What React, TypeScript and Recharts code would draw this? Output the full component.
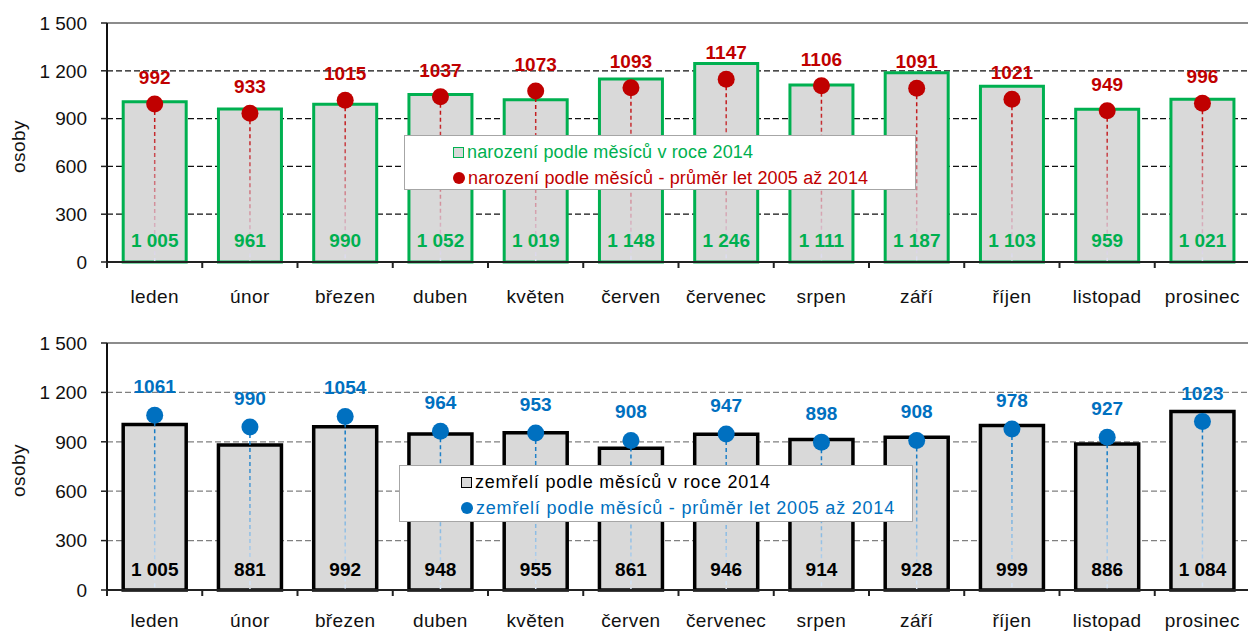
import React from 'react';
import { ComposedChart, Bar, XAxis, YAxis, CartesianGrid, ReferenceLine, LabelList } from 'recharts';

const months = ['leden', 'únor', 'březen', 'duben', 'květen', 'červen', 'červenec', 'srpen', 'září', 'říjen', 'listopad', 'prosinec'];
const births2014 = [1005, 961, 990, 1052, 1019, 1148, 1246, 1111, 1187, 1103, 959, 1021];
const birthsAvg = [992, 933, 1015, 1037, 1073, 1093, 1147, 1106, 1091, 1021, 949, 996];
const deaths2014 = [1005, 881, 992, 948, 955, 861, 946, 914, 928, 999, 886, 1084];
const deathsAvg = [1061, 990, 1054, 964, 953, 908, 947, 898, 908, 978, 927, 1023];
const yTicks = [0, 300, 600, 900, 1200, 1500];
const gridValues = [300, 600, 900, 1200];
const topValue = 1500;
const birthLegend = ['narození podle měsíců v roce 2014', 'narození podle měsíců - průměr let 2005 až 2014'];
const deathLegend = ['zemřelí podle měsíců v roce 2014', 'zemřelí podle měsíců - průměr let 2005 až 2014'];
const yLabel = 'osoby';

const FONT = '"Liberation Sans", Arial, sans-serif';

const fmtSpace = (v: number) =>
  v >= 1000 ? `${Math.floor(v / 1000)} ${String(v % 1000).padStart(3, '0')}` : String(v);

const makeXTick = (labelDy: number) => (props: any) => {
  const { x, y, payload, index, visibleTicksCount } = props;
  const off = payload && payload.offset ? payload.offset : 0;
  const last = index === (visibleTicksCount ?? 12) - 1;
  return (
    <g>
      <line x1={x - off} x2={x - off} y1={y} y2={y + 6} stroke="#222" strokeWidth={2} />
      {last && <line x1={x + off} x2={x + off} y1={y} y2={y + 6} stroke="#222" strokeWidth={2} />}
      <text x={x} y={y + labelDy} textAnchor="middle" fontSize={19} fill="#111" fontFamily={FONT} letterSpacing={0.4}>
        {payload.value}
      </text>
    </g>
  );
};

const makeDrop = (color: string, light: string, r: number, id: string) => (props: any) => {
  const { x, y, width, height, index } = props;
  const cx = x + width / 2;
  const gid = `${id}-${index}`;
  return (
    <g>
      <defs>
        <linearGradient id={gid} gradientUnits="userSpaceOnUse" x1={cx} y1={y} x2={cx} y2={y + height}>
          <stop offset="0" stopColor={color} />
          <stop offset="1" stopColor={light} />
        </linearGradient>
      </defs>
      <line x1={cx} y1={y} x2={cx} y2={y + height} stroke={`url(#${gid})`} strokeWidth={1.5} strokeDasharray="4 3" />
      <circle cx={cx} cy={y} r={r} fill={color} />
    </g>
  );
};

const OsobyLabel = (props: any) => {
  const vb = props.viewBox || {};
  const cx = 18;
  const cy = vb.y + vb.height / 2 + 4;
  return (
    <text x={cx} y={cy} transform={`rotate(-90 ${cx} ${cy})`} textAnchor="middle" dominantBaseline="central" fontSize={19} fill="#111" fontFamily={FONT} letterSpacing={0.5}>
      {yLabel}
    </text>
  );
};

type PanelProps = {
  v2014: number[];
  vAvg: number[];
  barStroke: string;
  barStrokeWidth: number;
  labelColor: string;
  avgColor: string;
  avgLight: string;
  gridColor: string;
  height: number;
  marginTop: number;
  xAxisHeight: number;
  avgOffset: number;
  baseOffset: number;
  labelDy: number;
  id: string;
};

function Panel(p: PanelProps) {
  const data = months.map((m, i) => ({ month: m, y2014: p.v2014[i], avg: p.vAvg[i] }));
  const XTick = makeXTick(p.labelDy);
  return (
    <ComposedChart
      width={1252}
      height={p.height}
      data={data}
      margin={{ top: p.marginTop, right: 2, bottom: 0, left: 0 }}
      barCategoryGap="17%"
    >
      <CartesianGrid horizontal vertical={false} horizontalValues={gridValues} stroke={p.gridColor} strokeDasharray="6 3" strokeWidth={1.3} />
      <ReferenceLine y={topValue} stroke="#8c8c8c" strokeWidth={2} ifOverflow="visible" />
      <XAxis dataKey="month" xAxisId="avg" hide height={0} />
      <XAxis
        dataKey="month"
        xAxisId="main"
        height={p.xAxisHeight}
        tickLine={false}
        tickSize={0}
        tickMargin={0}
        axisLine={{ stroke: '#222', strokeWidth: 2 }}
        tick={<XTick />}
        interval={0}
      />
      <YAxis
        width={107}
        domain={[0, 1500]}
        ticks={yTicks}
        tickFormatter={fmtSpace}
        axisLine={{ stroke: '#111', strokeWidth: 2 }}
        tickLine={{ stroke: '#222', strokeWidth: 1.5 }}
        tickSize={6}
        tickMargin={14}
        tick={{ fontSize: 19, fill: '#111', fontFamily: FONT }}
        interval={0}
        label={{ content: <OsobyLabel /> } as any}
      />
      <Bar
        dataKey="y2014"
        xAxisId="main"
        fill="#d9d9d9"
        stroke={p.barStroke}
        strokeWidth={p.barStrokeWidth}
        isAnimationActive={false}
      />
      <Bar dataKey="avg" xAxisId="avg" isAnimationActive={false} shape={makeDrop(p.avgColor, p.avgLight, 8.5, p.id)} fill={p.avgColor}>
        <LabelList
          dataKey="avg"
          position="top"
          offset={p.avgOffset}
          fill={p.avgColor}
          fontSize={19}
          fontWeight="bold"
          fontFamily={FONT}
        />
        <LabelList
          dataKey="y2014"
          position="insideBottom"
          offset={p.baseOffset}
          fill={p.labelColor}
          fontSize={19}
          fontWeight="bold"
          fontFamily={FONT}
          formatter={(v: any) => fmtSpace(Number(v))}
        />
      </Bar>
    </ComposedChart>
  );
}

type LegendBoxProps = {
  left: number;
  top: number;
  width: number;
  height: number;
  texts: string[];
  colors: string[];
  squareStroke: string;
  dotColor: string;
  padLeft: number;
  spacing: number;
};

function LegendBox(l: LegendBoxProps) {
  return (
    <div
      style={{
        position: 'absolute',
        left: l.left,
        top: l.top,
        width: l.width,
        height: l.height,
        boxSizing: 'border-box',
        border: '1.5px solid #a6a6a6',
        background: '#fff',
        fontFamily: FONT,
        fontSize: 18,
        letterSpacing: l.spacing,
        paddingLeft: l.padLeft,
        paddingTop: 3,
        lineHeight: '26px',
      }}
    >
      <div style={{ color: l.colors[0], display: 'flex', alignItems: 'center', whiteSpace: 'nowrap' }}>
        <span style={{ display: 'inline-block', width: 9, height: 9, border: `1.5px solid ${l.squareStroke}`, background: '#d9d9d9', marginRight: 3 }} />
        {l.texts[0]}
      </div>
      <div style={{ color: l.colors[1], display: 'flex', alignItems: 'center', whiteSpace: 'nowrap' }}>
        <span style={{ display: 'inline-block', width: 12, height: 12, borderRadius: 6, background: l.dotColor, marginRight: 3 }} />
        {l.texts[1]}
      </div>
    </div>
  );
}

export default function App() {
  return (
    <div style={{ position: 'absolute', left: 0, top: 0, width: 1248, height: 633, overflow: 'hidden', background: '#fff' }}>
      <div style={{ position: 'absolute', left: 0, top: 0 }}>
        <Panel
          v2014={births2014}
          vAvg={birthsAvg}
          barStroke="#00b050"
          barStrokeWidth={3}
          labelColor="#00b050"
          avgColor="#c00000"
          avgLight="#dde3f5"
          gridColor="#111"
          height={316}
          marginTop={23}
          xAxisHeight={54}
          avgOffset={20}
          baseOffset={15}
          labelDy={41}
          id="b"
        />
      </div>
      <div style={{ position: 'absolute', left: 0, top: 316 }}>
        <Panel
          v2014={deaths2014}
          vAvg={deathsAvg}
          barStroke="#000"
          barStrokeWidth={3.5}
          labelColor="#000"
          avgColor="#0070c0"
          avgLight="#dde8f8"
          gridColor="#808080"
          height={317}
          marginTop={27}
          xAxisHeight={43}
          avgOffset={22}
          baseOffset={14}
          labelDy={37}
          id="d"
        />
      </div>
      <LegendBox left={404} top={135} width={512} height={55} texts={birthLegend} colors={['#00b050', '#c00000']} squareStroke="#00b050" dotColor="#c00000" padLeft={48} spacing={0.15} />
      <LegendBox left={399} top={465} width={514} height={57} texts={deathLegend} colors={['#000', '#0070c0']} squareStroke="#000" dotColor="#0070c0" padLeft={61} spacing={0.8} />
    </div>
  );
}
